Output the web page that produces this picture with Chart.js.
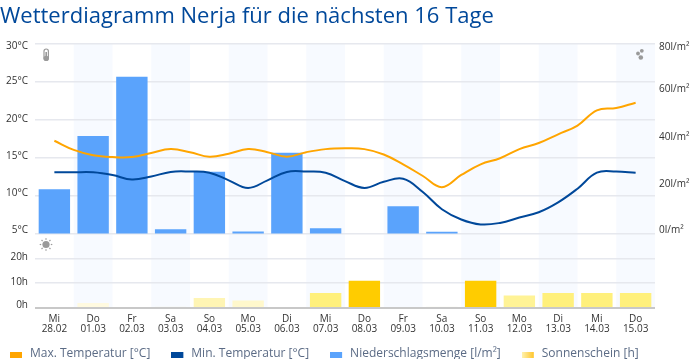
<!DOCTYPE html>
<html><head><meta charset="utf-8">
<style>html,body{margin:0;padding:0;background:#fff}#w{width:700px;height:359px;position:relative}</style>
<script src="https://cdn.jsdelivr.net/npm/chart.js@4"></script></head>
<body><div id="w"><canvas id="c" width="700" height="359"></canvas></div>
<script>
const titleText = 'Wetterdiagramm Nerja für die nächsten 16 Tage';
const weekdays = ['Mi','Do','Fr','Sa','So','Mo','Di','Mi','Do','Fr','Sa','So','Mo','Di','Mi','Do'];
const dates = ['28.02','01.03','02.03','03.03','04.03','05.03','06.03','07.03','08.03','09.03','10.03','11.03','12.03','13.03','14.03','15.03'];
// temperature curves
const maxTemp = [17.2,16,15.3,15.05,15.05,15.6,16.1,15.7,15.1,15.5,16.1,15.7,15.1,15.7,16.1,16.2,16.1,15.4,14.1,12.6,11.1,12.7,14.1,14.9,16.1,16.9,18.05,19.2,21.2,21.5,22.2];
const minTemp = [13.05,13.05,13.05,12.7,12.1,12.5,13.1,13.15,13,12,11,12,13.1,13.15,13,11.9,11,11.8,12.2,10.5,8.2,6.85,6.2,6.4,7.1,7.8,9.1,10.9,13,13.15,13];
const rain = [18.6,41,66,1.8,26,0.9,34,2.2,0,11.5,0.8,0,0,0,0,0];
const sun = [0,2,0,0.5,4,3,0,6,11,0,0.5,11,5,6,6,6];
const legendNames = ['Max. Temperatur [°C]','Min. Temperatur [°C]','Niederschlagsmenge [l/m²]','Sonnenschein [h]'];
const tempTicks = [5,10,15,20,25,30];
const sunTicks = [0,10,20];
const rainTicks = [0,20,40,60,80];

const FONT = '"Open Sans"';
const ORANGE='#ffa500', NAVY='#00489a', BLUE='#5aa3fc', GRID='#e6e8ee';

function sunColor(h){
  if(h>=9) return '#ffcc00';
  if(h>=6) return '#fff07c';
  if(h>=5) return '#fff396';
  if(h>=4) return '#fff5b4';
  if(h>=3) return '#fff8cc';
  if(h>=2) return '#fffae0';
  return '#f6f5ea';
}
function marker(fill){
  const m=document.createElement('canvas');m.width=14;m.height=12;
  const g=m.getContext('2d');
  if(fill==='grad'){const l=g.createLinearGradient(0,0,12,0);l.addColorStop(0,'#fff3b0');l.addColorStop(1,'#ffc62e');g.fillStyle=l;}
  else g.fillStyle=fill;
  g.fillRect(0,4,12,6);
  return m;
}
const labelShift = {
  y:{30:3,25:-0.5,20:-0.5,15:-1,10:-2,5:-3.5},
  ySun:{20:-1,10:-1,0:-3},
  yRain:{80:3.5,60:-2,40:-1.5,20:-1.5,0:-3.5}
};
const done=new WeakSet();
const deco={
  id:'deco',
  afterLayout(ch){ ch.legend.left=-11; ch.legend.top-=5; },
  beforeDraw(ch){
    const g=ch.ctx,x=ch.scales.x,a=ch.chartArea;
    const step=x.getPixelForValue(1)-x.getPixelForValue(0);
    g.save();g.fillStyle='#f7faff';
    dates.forEach((d,i)=>{ if(i%2===1){ g.fillRect(x.getPixelForValue(i)-step/2,a.top,step,a.bottom-a.top);} });
    g.restore();
    for(const id in labelShift){
      const s=ch.scales[id],items=s.getLabelItems(a);
      if(done.has(items))continue;done.add(items);
      items.forEach(it=>{ const v=parseInt(it.label,10); it.options.translation[1]+=labelShift[id][v]||0; });
    }
  },
  afterDraw(ch){
    const g=ch.ctx;g.save();
    const col='#9a9a9a';g.fillStyle=col;g.strokeStyle=col;
    // thermometer
    g.lineWidth=1.2;g.beginPath();g.roundRect(44,49,4.4,11,2.2);g.stroke();
    g.beginPath();g.arc(46.2,58.4,2.7,0,7);g.fill();
    g.fillRect(45.4,52,1.6,6);
    // rain drops
    [[638,53.5,1.9],[641.8,50.8,1.9],[640.8,57.5,2.3]].forEach(p=>{g.beginPath();g.arc(p[0],p[1],p[2],0,7);g.fill();});
    // sun
    g.beginPath();g.arc(46,244.5,3.6,0,7);g.fill();
    g.lineWidth=1.2;
    for(let i=0;i<8;i++){const t=i*Math.PI/4;g.beginPath();g.moveTo(46+Math.cos(t)*4.8,244.5+Math.sin(t)*4.8);g.lineTo(46+Math.cos(t)*6.3,244.5+Math.sin(t)*6.3);g.stroke();}
    g.restore();
  }
};
const tickFont={family:FONT,size:10};
const halfDay=a=>a.map((v,i)=>({x:i/2,y:v}));
new Chart(document.getElementById('c'),{
  data:{
    labels:weekdays.map((w,i)=>[w,dates[i]]),
    datasets:[
      {type:'line',label:legendNames[0],data:halfDay(maxTemp),borderColor:ORANGE,backgroundColor:ORANGE,borderWidth:2,pointRadius:0,tension:0.4,xAxisID:'xLine',yAxisID:'y',order:0},
      {type:'line',label:legendNames[1],data:halfDay(minTemp),borderColor:NAVY,backgroundColor:NAVY,borderWidth:2,pointRadius:0,tension:0.4,xAxisID:'xLine',yAxisID:'y',order:0},
      {type:'bar',label:legendNames[2],data:rain,backgroundColor:BLUE,grouped:false,barPercentage:0.81,categoryPercentage:1,yAxisID:'yRain',order:1},
      {type:'bar',label:legendNames[3],data:sun,backgroundColor:c=>sunColor(c.raw),grouped:false,barPercentage:0.81,categoryPercentage:1,yAxisID:'ySun',order:1}
    ]
  },
  options:{
    responsive:false,animation:false,
    layout:{padding:{left:0,right:0,top:4,bottom:-16}},
    plugins:{
      tooltip:{enabled:false},
      title:{display:true,text:titleText,align:'start',color:'#00489a',font:{family:FONT,size:22,weight:'normal'},padding:{top:0,bottom:13}},
      legend:{position:'bottom',align:'start',
        labels:{font:{family:FONT,size:12},color:'#5b6b85',usePointStyle:true,pointStyleWidth:14,padding:21,
          generateLabels(){
            return [ORANGE,NAVY,BLUE,'grad'].map((f,i)=>({text:legendNames[i],pointStyle:marker(f),fontColor:'#5b6b85',datasetIndex:i,hidden:false,lineWidth:0}));
          }}}
    },
    scales:{
      x:{type:'category',position:'bottom',offset:true,grid:{display:false},border:{display:false},
        ticks:{font:{family:FONT,size:10,lineHeight:1},color:'#333',padding:-2,maxRotation:0,autoSkip:false}},
      xLine:{type:'linear',display:false,min:-0.5,max:15.5},
      y:{position:'left',stack:'left',stackWeight:189,weight:2,min:5,max:30,
        afterBuildTicks(s){s.ticks=tempTicks.map(v=>({value:v}));},
        afterFit(s){s.width=35;},
        grid:{color:GRID,lineWidth:1.5,drawTicks:false},border:{display:false},
        ticks:{font:tickFont,color:'#333',padding:7,callback:v=>v+'°C'}},
      ySun:{position:'left',stack:'left',stackWeight:74,weight:1,min:0,max:30,
        afterBuildTicks(s){s.ticks=sunTicks.map(v=>({value:v}));},
        afterFit(s){s.width=35;},
        grid:{color:c=>c.tick.value===0?'#c8c8c8':GRID,lineWidth:c=>c.tick.value===0?2:1.5,drawTicks:false},border:{display:false},
        ticks:{font:tickFont,color:'#333',padding:7,callback:v=>v+'h'}},
      yRain:{position:'right',min:-31.3,max:80,
        afterBuildTicks(s){s.ticks=rainTicks.map(v=>({value:v}));},
        afterFit(s){s.width=45;},
        grid:{display:false,drawTicks:false},border:{display:false},
        ticks:{font:tickFont,color:'#333',padding:4,callback:v=>v+'l/m²'}}
    }
  },
  plugins:[deco]
});
</script></body></html>
